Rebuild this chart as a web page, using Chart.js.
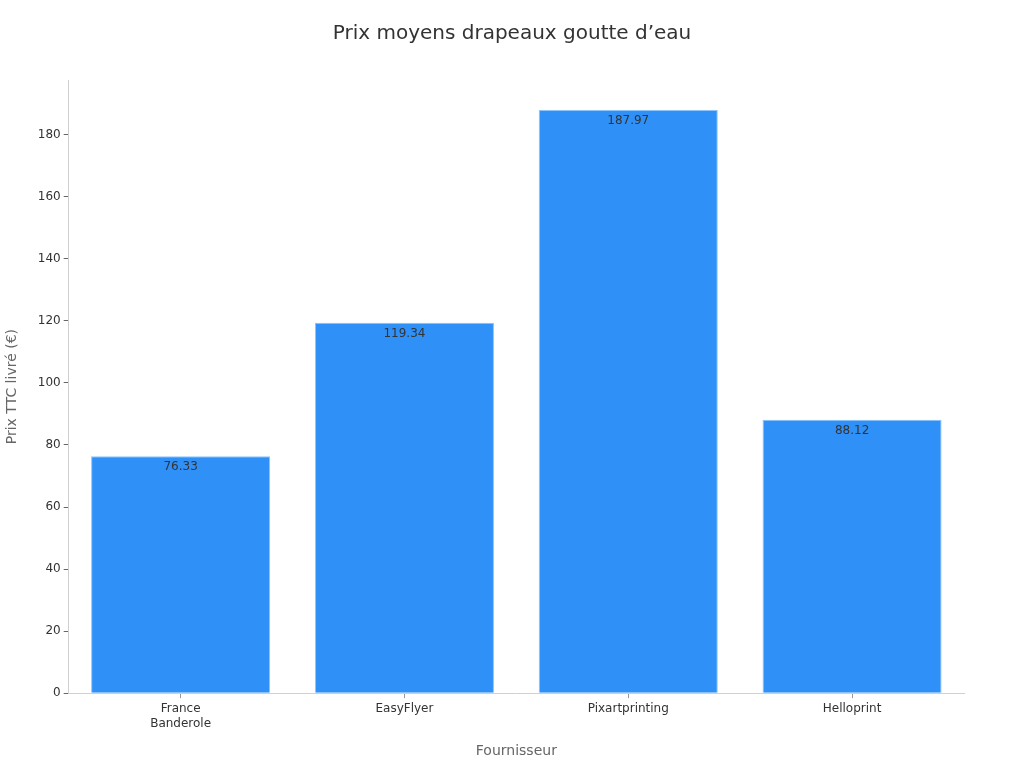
<!DOCTYPE html>
<html><head><meta charset="utf-8">
<script src="https://cdn.jsdelivr.net/npm/chart.js@4"></script>
<style>html,body{margin:0;padding:0;background:#fff}#wrap{width:1024px;height:768px}</style>
</head><body><div id="wrap"><canvas id="c" width="1024" height="768"></canvas></div>
<script>
const categories = [["France","Banderole"], "EasyFlyer", "Pixartprinting", "Helloprint"];
const prices = [76.33, 119.34, 187.97, 88.12];
const yTicks = [0, 20, 40, 60, 80, 100, 120, 140, 160, 180];
const titleText = 'Prix moyens drapeaux goutte d\u2019eau';

const labelPlugin = {
  id: 'barLabels',
  afterDatasetsDraw(chart) {
    const ctx = chart.ctx;
    const meta = chart.getDatasetMeta(0);
    ctx.save();
    ctx.font = '12px "DejaVu Sans"';
    ctx.fillStyle = '#333333';
    ctx.textAlign = 'center';
    ctx.textBaseline = 'top';
    meta.data.forEach((bar, i) => {
      ctx.fillText(prices[i].toFixed(2), bar.x, bar.y + 5);
    });
    ctx.restore();
  }
};

const titlePlugin = {
  id: 'centeredTitle',
  afterDraw(chart) {
    const ctx = chart.ctx;
    ctx.save();
    ctx.font = '20px "DejaVu Sans"';
    ctx.fillStyle = '#333333';
    ctx.textAlign = 'center';
    ctx.textBaseline = 'middle';
    ctx.fillText(titleText, chart.width / 2, 34);
    ctx.restore();
  }
};

Chart.defaults.font.family = '"DejaVu Sans", sans-serif';
new Chart(document.getElementById('c'), {
  type: 'bar',
  data: {
    labels: categories,
    datasets: [{
      data: prices,
      backgroundColor: '#2f91f7',
      borderColor: '#8cc4fb',
      borderWidth: 1,
      barPercentage: 0.8,
      categoryPercentage: 1.0
    }]
  },
  options: {
    responsive: false,
    animation: false,
    layout: { padding: { left: 0, right: 60, top: 20, bottom: 4 } },
    plugins: {
      legend: { display: false },
      tooltip: { enabled: false },
      title: {
        display: true,
        text: titleText,
        color: 'rgba(0,0,0,0)',
        font: { size: 20, weight: 'normal' },
        padding: { top: 10, bottom: 26 }
      }
    },
    scales: {
      x: {
        grid: { display: true, drawOnChartArea: false, offset: false, tickLength: 5, color: '#999999' },
        border: { display: true, color: '#d0d0d0' },
        ticks: { color: '#333333', font: { size: 12, lineHeight: 1.25 }, padding: 3 },
        title: { display: true, text: 'Fournisseur', color: '#666666', font: { size: 14 }, padding: { top: 9 } }
      },
      y: {
        min: 0,
        max: 197.6,
        afterBuildTicks(axis) { axis.ticks = yTicks.map(v => ({ value: v })); },
        grid: { display: true, drawOnChartArea: false, tickLength: 5, color: '#666666' },
        border: { display: true, color: '#d0d0d0' },
        ticks: { color: '#333333', font: { size: 12 }, padding: 3 },
        title: { display: true, text: 'Prix TTC livr\u00e9 (\u20ac)', color: '#666666', font: { size: 14 }, padding: { bottom: 14 } }
      }
    }
  },
  plugins: [labelPlugin, titlePlugin]
});
</script></body></html>
